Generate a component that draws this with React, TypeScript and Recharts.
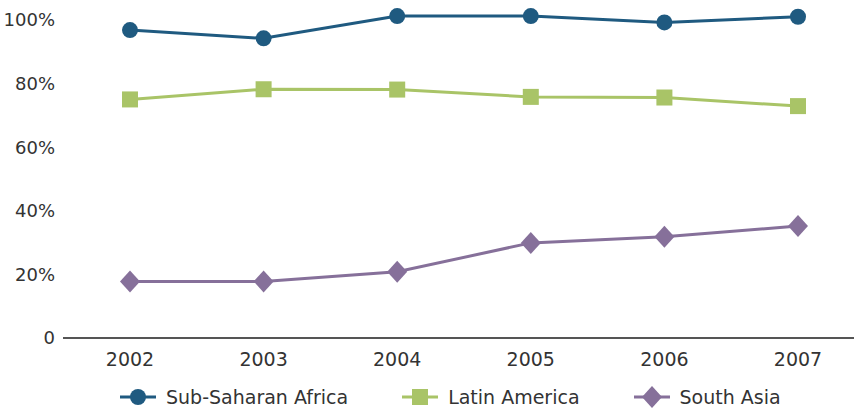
import React from 'react'
import { LineChart, Line, XAxis, YAxis, Legend } from 'recharts'

const years = ['2002', '2003', '2004', '2005', '2006', '2007']
const subSaharan = [96.8, 94.2, 101.2, 101.2, 99.2, 101]
const latinAmerica = [75, 78.2, 78.1, 75.8, 75.6, 72.9]
const southAsia = [17.8, 17.8, 20.8, 29.9, 31.8, 35.2]
const yTicks = [0, 20, 40, 60, 80, 100]

const data = years.map((year, i) => ({
  year,
  subSaharan: subSaharan[i],
  latinAmerica: latinAmerica[i],
  southAsia: southAsia[i],
}))

const BLUE = '#1F5A80'
const GREEN = '#A9C467'
const PURPLE = '#86709A'
const FONT = '"DejaVu Sans", sans-serif'

const Marker = ({ kind, cx, cy, color }: { kind: string; cx: number; cy: number; color: string }) => {
  if (kind === 'circle') return <circle cx={cx} cy={cy} r={8} fill={color} />
  if (kind === 'square') return <rect x={cx - 8} y={cy - 8} width={16} height={16} fill={color} />
  return <polygon points={`${cx},${cy - 11} ${cx + 10},${cy} ${cx},${cy + 11} ${cx - 10},${cy}`} fill={color} />
}

const makeDot = (kind: string, color: string) => (props: any) => (
  <Marker key={`${kind}-${props.index}`} kind={kind} cx={props.cx} cy={props.cy} color={color} />
)

const legendItems = [
  { name: 'Sub-Saharan Africa', kind: 'circle', color: BLUE },
  { name: 'Latin America', kind: 'square', color: GREEN },
  { name: 'South Asia', kind: 'diamond', color: PURPLE },
]

const CustomLegend = () => (
  <div style={{ display: 'flex', height: 47, paddingLeft: 120, boxSizing: 'border-box', paddingTop: 18, fontFamily: FONT, fontSize: 19, color: '#333' }}>
    {legendItems.map((item) => (
      <div key={item.name} style={{ display: 'flex', alignItems: 'center', marginRight: 54, height: 22 }}>
        <svg width={36} height={24} style={{ marginRight: 10 }}>
          <line x1={0} y1={12} x2={36} y2={12} stroke={item.color} strokeWidth={3} />
          <Marker kind={item.kind} cx={18} cy={12} color={item.color} />
        </svg>
        <span>{item.name}</span>
      </div>
    ))}
  </div>
)

export default function App() {
  return (
    <div style={{ position: 'absolute', left: 0, top: 0, background: '#fff' }}>
      <LineChart width={854} height={415} data={data} margin={{ top: 4, right: 0, left: 0, bottom: 0 }}>
        <XAxis
          dataKey="year"
          padding={{ left: 67, right: 56 }}
          tickLine={false}
          axisLine={{ stroke: '#555', strokeWidth: 2 }}
          tick={{ fill: '#333', fontSize: 19, fontFamily: FONT }}
          tickMargin={9}
          height={30}
        />
        <YAxis
          width={63}
          domain={[0, 105]}
          ticks={yTicks}
          tickFormatter={(v) => (v === 0 ? '0' : `${v}%`)}
          axisLine={false}
          tickLine={false}
          tick={{ fill: '#333', fontSize: 18, fontFamily: FONT }}
        />
        <Legend verticalAlign="bottom" content={<CustomLegend />} />
        <Line dataKey="subSaharan" name="Sub-Saharan Africa" stroke={BLUE} strokeWidth={3} dot={makeDot('circle', BLUE)} activeDot={false} isAnimationActive={false} />
        <Line dataKey="latinAmerica" name="Latin America" stroke={GREEN} strokeWidth={3} dot={makeDot('square', GREEN)} activeDot={false} isAnimationActive={false} />
        <Line dataKey="southAsia" name="South Asia" stroke={PURPLE} strokeWidth={3} dot={makeDot('diamond', PURPLE)} activeDot={false} isAnimationActive={false} />
      </LineChart>
    </div>
  )
}
